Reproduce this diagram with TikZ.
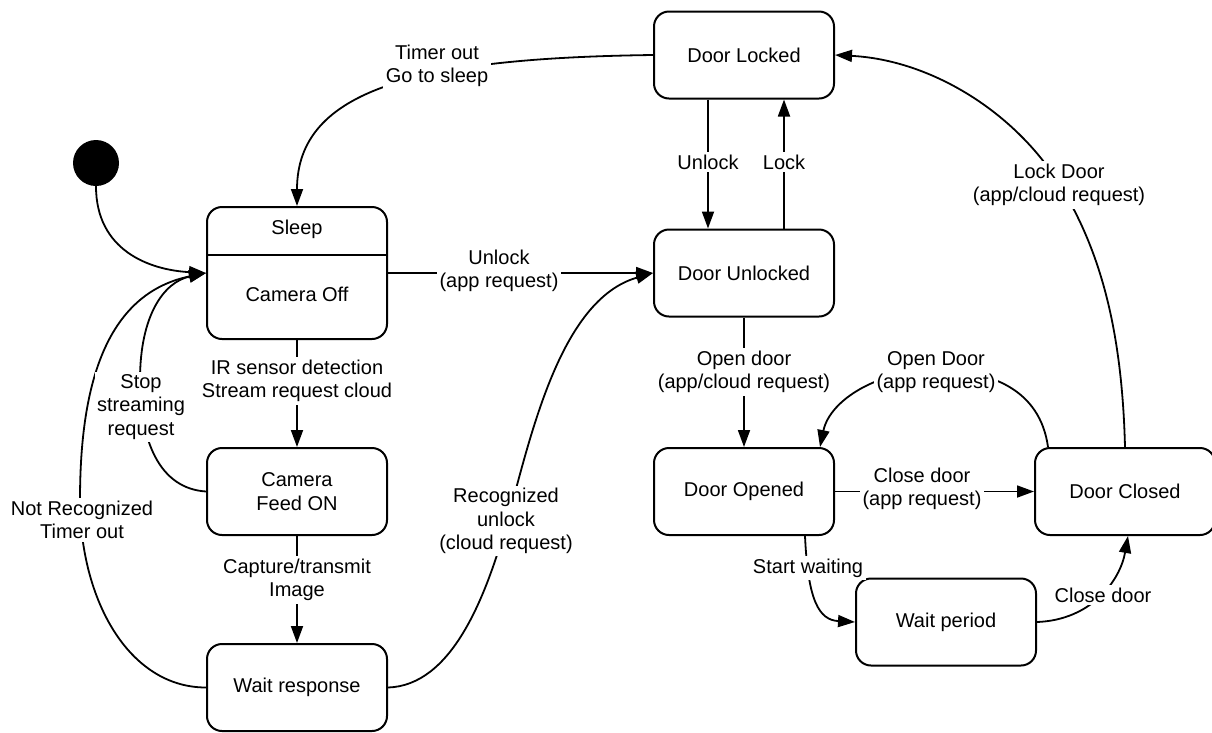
\documentclass[tikz,border=0pt]{standalone}
\usepackage{fontspec}
\setmainfont{Liberation Sans}
\usetikzlibrary{arrows.meta}
\begin{document}
\begin{tikzpicture}[x=1pt,y=-1pt,
  every node/.style={font=\fontsize{20}{23.5}\selectfont},
  state/.style={draw, line width=2pt, rounded corners=15pt, minimum width=180pt,
    minimum height=87pt, align=center, inner sep=0pt},
  txt/.style={align=center, inner sep=0pt},
  lbl/.style={fill=white, align=center, inner sep=2.5pt},
  ln/.style={line width=1.8pt},
  tr/.style={line width=1.8pt, -{Triangle[length=17pt,width=12pt]}}
]
\useasboundingbox (0,0) rectangle (1212,732);
\clip (0,0) rectangle (1212,732);

% states
\node[circle, fill=black, minimum size=46pt, inner sep=0pt] (init) at (96,163) {};
\node[state, minimum height=132pt] (sleep) at (297,273) {};
\draw[line width=2pt] (sleep.north west) ++(0,49) -- ++(180,0);
\node[txt] (sleeptitle) at (297,229) {Sleep};
\node[txt] (sleepbody) at (297,294) {Camera Off};
\node[state] (camfeed) at (297,491.5) {Camera\\Feed ON};
\node[state] (waitresp) at (297,687.5) {Wait response};
\node[state] (locked) at (744,55) {Door Locked};
\node[state] (unlocked) at (744,273) {Door Unlocked};
\node[state] (opened) at (744,491.5) {Door Opened};
\node[state] (closed) at (1125,491.5) {Door Closed};
\node[state] (waitper) at (946,622) {Wait period};

% via points of the longer curves
\coordinate (ssMid) at (140,380);
\coordinate (nrMid) at (80,500);
\coordinate (rcMid) at (507,522);
\coordinate (odTop) at (935,370);
\coordinate (ldMid) at (1060,185);

% transitions
\draw[tr] (init.south) .. controls +(0,64) and +(-57,-3) .. (sleep.west);
\draw[tr] (locked.west) .. controls +(-234,3) and +(0,-117) .. (sleep.north);
\draw[tr] (sleep.east) -- (unlocked.west);
\draw[tr] (sleep.south) -- (camfeed.north);
\draw[tr] (camfeed.south) -- (waitresp.north);
\draw[tr] (camfeed.west) .. controls +(-47,-3) and +(0,60) .. (ssMid)
  .. controls +(0,-65) and +(-42,9) .. (sleep.west);
\draw[tr] (waitresp.west) .. controls +(-77,0) and +(0,100) .. (nrMid)
  .. controls +(0,-100) and +(-107,22) .. (sleep.west);
\draw[tr] (waitresp.east) .. controls +(63,-2) and +(-22,78) .. (rcMid)
  .. controls +(23,-82) and +(-94,27) .. (unlocked.west);
\draw[tr] ([xshift=-36pt]locked.south) -- ([xshift=-36pt]unlocked.north);
\draw[tr] ([xshift=40pt]unlocked.north) -- ([xshift=40pt]locked.south);
\draw[tr] (unlocked.south) -- (opened.north);
\draw[tr] ([xshift=-77pt]closed.north) .. controls +(-8,-58) and +(55,0) .. (odTop)
  .. controls +(-55,0) and +(10,-48) .. ([xshift=76pt]opened.north);
\draw[tr] (opened.east) -- (closed.west);
\draw[tr] ([xshift=61pt]opened.south) .. controls +(3,65) and +(-36,-2) .. (waitper.west);
\draw[tr] (waitper.east) .. controls +(54,-2) and +(-8,45) .. ([xshift=3pt]closed.south);
\draw[tr] (closed.north) .. controls +(-3,-118) and +(40,65) .. (ldMid)
  .. controls +(-45,-73) and +(96,5) .. (locked.east);

% transition labels
\node[lbl] (lTimer) at (437,66) {Timer out\\Go to sleep};
\node[lbl] (lUnlockApp) at (499,271) {Unlock\\(app request)};
\node[lbl] (lIR) at (297,381) {IR sensor detection\\Stream request cloud};
\node[lbl] (lStop) at (141,407) {Stop\\streaming\\request};
\node[lbl] (lNotRec) at (82,520) {Not Recognized\\Timer out};
\node[lbl] (lCapture) at (297,580) {Capture/transmit\\Image};
\node[lbl] (lRec) at (506,521) {Recognized\\unlock\\(cloud request)};
\node[lbl] (lUnlock) at (708,162) {Unlock};
\node[lbl] (lLock) at (784,162) {Lock};
\node[lbl] (lOpen) at (744,372) {Open door\\(app/cloud request)};
\node[lbl] (lOpenApp) at (936,372) {Open Door\\(app request)};
\node[lbl] (lCloseApp) at (922,489) {Close door\\(app request)};
\node[lbl] (lStart) at (808,568) {Start waiting};
\node[lbl] (lClose) at (1103,595) {Close door};
\node[lbl] (lLockDoor) at (1059,185) {Lock Door\\(app/cloud request)};
\end{tikzpicture}
\end{document}
